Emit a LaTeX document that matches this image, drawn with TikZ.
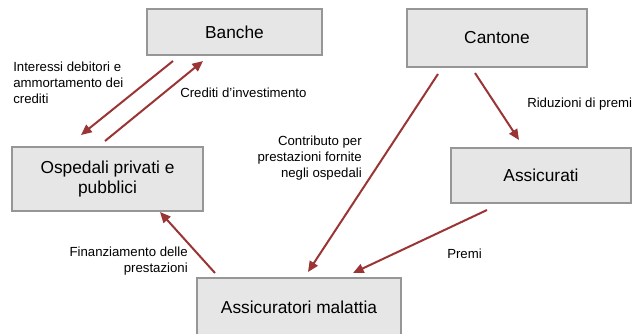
\documentclass[tikz,border=0pt]{standalone}
\usepackage{fontspec}
\setmainfont{Liberation Sans}
\usetikzlibrary{arrows.meta}
\definecolor{arrowred}{RGB}{155,52,52}
\definecolor{boxfill}{RGB}{230,230,230}
\definecolor{boxline}{RGB}{150,150,150}
\begin{document}
\begin{tikzpicture}[x=0.75pt,y=-0.75pt,
  box/.style={draw=boxline, fill=boxfill, line width=1.1pt, inner sep=0pt, align=center,
    font=\fontsize{13}{15.6}\selectfont},
  flow/.style={draw=arrowred, line width=1.5pt, -{Triangle[length=8pt,width=7pt]}},
  lbl/.style={font=\fontsize{9.9}{12}\selectfont, inner sep=0pt}]
\useasboundingbox (0,0) rectangle (632,333);
% boxes
\node[box, minimum width=131.25pt, minimum height=34.5pt] (banche) at (234.5,32) {Banche};
\node[box, minimum width=135pt, minimum height=43.5pt] (cantone) at (497,38) {Cantone};
\node[box, minimum width=143.25pt, minimum height=48pt] (osp) at (107.5,179) {Ospedali privati e\\pubblici};
\node[box, minimum width=135pt, minimum height=41.25pt] (assic) at (541,175.5) {Assicurati};
\node[box, minimum width=153pt, minimum height=43.5pt] (malattia) at (299,307) {Assicuratori malattia};
% connector end points
\coordinate (b1) at (173,61);
\coordinate (o1) at (81,135);
\coordinate (o2) at (105,141);
\coordinate (b2) at (203,61);
\coordinate (c1) at (438,74);
\coordinate (m1) at (308,272);
\coordinate (c2) at (475,73);
\coordinate (a1) at (519,140);
\coordinate (a2) at (487,210);
\coordinate (m2) at (353,273);
\coordinate (m3) at (215,273);
\coordinate (o3) at (160,212);
% connectors
\draw[flow] (b1) -- (o1);
\draw[flow] (o2) -- (b2);
\draw[flow] (c1) -- (m1);
\draw[flow] (c2) -- (a1);
\draw[flow] (a2) -- (m2);
\draw[flow] (m3) -- (o3);
% labels
\node[lbl, anchor=west, align=left] (l1) at (13,83) {Interessi debitori e\\ammortamento dei\\crediti};
\node[lbl, anchor=west] (l2) at (180,93) {Crediti d'investimento};
\node[lbl, anchor=east, align=right] (l3) at (362,158) {Contributo per\\prestazioni fornite\\negli ospedali};
\node[lbl, anchor=west] (l4) at (527,104) {Riduzioni di premi};
\node[lbl, anchor=east, align=right] (l5) at (188,261.5) {Finanziamento delle\\prestazioni};
\node[lbl, anchor=west] (l6) at (447,254) {Premi};
\end{tikzpicture}
\end{document}
